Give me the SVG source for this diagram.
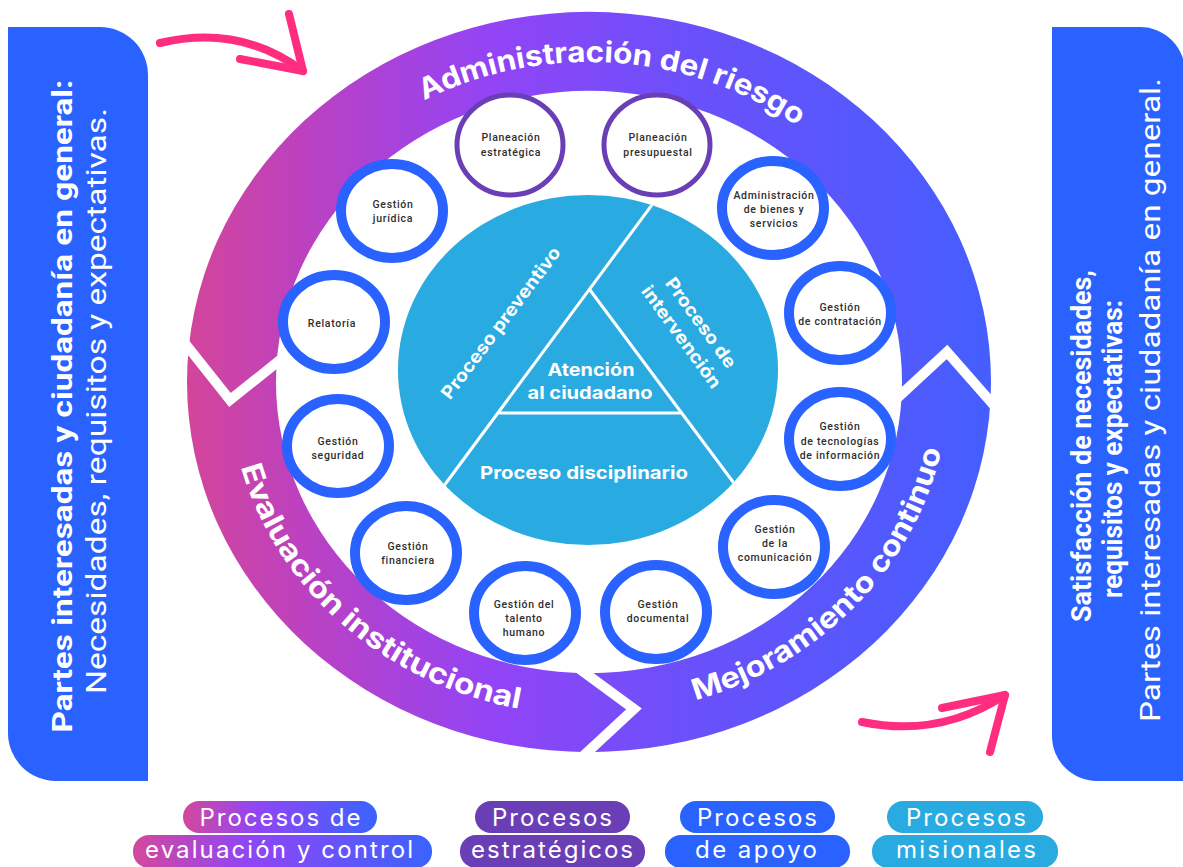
<svg xmlns="http://www.w3.org/2000/svg" width="1183" height="867" viewBox="0 0 1183 867">
<defs>
<linearGradient id="ringGrad" gradientUnits="userSpaceOnUse" x1="188" y1="0" x2="990" y2="0">
<stop offset="0" stop-color="#d3459a"/>
<stop offset="0.15" stop-color="#bb41c2"/>
<stop offset="0.38" stop-color="#9244f6"/>
<stop offset="0.62" stop-color="#6b50fb"/>
<stop offset="1" stop-color="#455efe"/>
</linearGradient>
<linearGradient id="pillGrad" x1="0" y1="0" x2="1" y2="0">
<stop offset="0" stop-color="#d4489c"/>
<stop offset="0.38" stop-color="#9145f5"/>
<stop offset="1" stop-color="#3a63fe"/>
</linearGradient>
<clipPath id="cyanClip"><ellipse cx="588" cy="370" rx="190" ry="175"/></clipPath>
<path id="topArc" d="M242,382 A347,320 0 0 1 936,382"/>
<path id="botArc" d="M229,382 A360,333 0 0 0 949,382"/>
</defs>
<style>
.panel{fill:#2962ff}
.pb{fill:#fff;font-family:Roboto,"Liberation Sans",sans-serif;font-weight:700;text-anchor:middle}
.pr{fill:#fff;font-family:Roboto,"Liberation Sans",sans-serif;font-weight:400;text-anchor:middle}
.ringt{fill:#fff;font-family:Inter,"Liberation Sans",sans-serif;font-weight:700;font-size:29px;text-anchor:middle}
.nb{fill:#fff;stroke:#2962ff;stroke-width:10}
.np{fill:#fff;stroke:#6a3fb5;stroke-width:5}
.nt{fill:#2e2e2e;font-family:Roboto,"Liberation Sans",sans-serif;font-weight:500;font-size:10.5px;letter-spacing:0.7px;text-anchor:middle}
.ct{fill:#fff;font-family:Inter,"Liberation Sans",sans-serif;font-weight:700;font-size:18px;text-anchor:middle}
.gap{fill:none;stroke:#fff;stroke-width:10;stroke-linejoin:miter}
.tri{fill:none;stroke:#fff;stroke-width:3}
.arrow{fill:none;stroke:#ff2d7f;stroke-width:8;stroke-linecap:round;stroke-linejoin:round}
.lt{fill:#fff;font-family:Inter,"Liberation Sans",sans-serif;font-size:24px;text-anchor:middle}
</style>

<g id="left-panel">
<path class="panel" d="M8,27 H100 A48,48 0 0 1 148,75 V781 H56 A48,48 0 0 1 8,733 Z"/>
<text class="pb" font-size="27" transform="translate(72,406) rotate(-90)" textLength="653" lengthAdjust="spacingAndGlyphs">Partes interesadas y ciudadanía en general:</text>
<text class="pr" font-size="28" transform="translate(106,401) rotate(-90)" textLength="586" lengthAdjust="spacingAndGlyphs">Necesidades, requisitos y expectativas.</text>
</g>

<g id="right-panel">
<path class="panel" d="M1052,27 H1140 A45,45 0 0 1 1185,72 V781 H1097 A45,45 0 0 1 1052,736 Z"/>
<text class="pb" font-size="27" transform="translate(1091,446) rotate(-90)" textLength="352" lengthAdjust="spacingAndGlyphs">Satisfacción de necesidades,</text>
<text class="pb" font-size="27" transform="translate(1122,449) rotate(-90)" textLength="298" lengthAdjust="spacingAndGlyphs">requisitos y expectativas:</text>
<text class="pr" font-size="27" transform="translate(1160,400) rotate(-90)" textLength="644" lengthAdjust="spacingAndGlyphs">Partes interesadas y ciudadanía en general.</text>
</g>

<g id="ring">
<path fill="url(#ringGrad)" fill-rule="evenodd" d="M187,382 A402,370 0 1 0 991,382 A402,370 0 1 0 187,382 Z M276,382 A313,291 0 1 0 902,382 A313,291 0 1 0 276,382 Z"/>
<polyline class="gap" points="176,332 230,400 290,352"/>
<polyline class="gap" points="893,402 947,352 998,410"/>
<polyline class="gap" points="570,662 634,709 580,759"/>
<text class="ringt"><textPath href="#topArc" startOffset="549" textLength="392" lengthAdjust="spacingAndGlyphs">Administración del riesgo</textPath></text>
<text class="ringt"><textPath href="#botArc" startOffset="280" textLength="388" lengthAdjust="spacingAndGlyphs">Evaluación institucional</textPath></text>
<text class="ringt"><textPath href="#botArc" startOffset="836" textLength="368" lengthAdjust="spacingAndGlyphs">Mejoramiento continuo</textPath></text>
</g>

<g id="center">
<ellipse cx="588" cy="370" rx="190" ry="175" fill="#29abe2"/>
<g clip-path="url(#cyanClip)">
<line class="tri" x1="660" y1="194" x2="432" y2="502"/>
<line class="tri" x1="590" y1="290" x2="748" y2="502"/>
<line class="tri" x1="499" y1="413" x2="682" y2="413"/>
</g>
<text class="ct" x="591" y="376" textLength="87" lengthAdjust="spacingAndGlyphs">Atención</text>
<text class="ct" x="590" y="399" textLength="125" lengthAdjust="spacingAndGlyphs">al ciudadano</text>
<text class="ct" x="584" y="479" textLength="208" lengthAdjust="spacingAndGlyphs">Proceso disciplinario</text>
<text class="ct" transform="translate(501,323) rotate(-53)" x="0" y="6" textLength="185" lengthAdjust="spacingAndGlyphs">Proceso preventivo</text>
<g transform="translate(691,330) rotate(54)">
<text class="ct" x="0" y="-6" textLength="107" lengthAdjust="spacingAndGlyphs">Proceso de</text>
<text class="ct" x="0" y="18" textLength="122" lengthAdjust="spacingAndGlyphs">intervención</text>
</g>
</g>

<g id="node-planeacion-estrategica">
<ellipse class="np" cx="510" cy="145" rx="53" ry="50"/>
<text class="nt"><tspan x="511" y="141">Planeación</tspan><tspan x="511" y="156">estratégica</tspan></text>
</g>
<g id="node-planeacion-presupuestal">
<ellipse class="np" cx="657" cy="145" rx="53" ry="50"/>
<text class="nt"><tspan x="658" y="141">Planeación</tspan><tspan x="658" y="156">presupuestal</tspan></text>
</g>
<g id="node-gestion-juridica">
<ellipse class="nb" cx="392" cy="211" rx="51" ry="47"/>
<text class="nt"><tspan x="393" y="208">Gestión</tspan><tspan x="393" y="222">jurídica</tspan></text>
</g>
<g id="node-administracion-bienes">
<ellipse class="nb" cx="773" cy="208" rx="51" ry="47"/>
<text class="nt"><tspan x="774" y="199">Administración</tspan><tspan x="774" y="213">de bienes y</tspan><tspan x="774" y="227">servicios</tspan></text>
</g>
<g id="node-relatoria">
<ellipse class="nb" cx="334" cy="322" rx="51" ry="47"/>
<text class="nt" x="332" y="327">Relatoría</text>
</g>
<g id="node-gestion-contratacion">
<ellipse class="nb" cx="840" cy="313" rx="51" ry="47"/>
<text class="nt"><tspan x="840" y="311">Gestión</tspan><tspan x="840" y="325">de contratación</tspan></text>
</g>
<g id="node-gestion-seguridad">
<ellipse class="nb" cx="338" cy="446" rx="51" ry="47"/>
<text class="nt"><tspan x="338" y="445">Gestión</tspan><tspan x="338" y="459">seguridad</tspan></text>
</g>
<g id="node-gestion-tecnologias">
<ellipse class="nb" cx="840" cy="439" rx="51" ry="47"/>
<text class="nt"><tspan x="840" y="430">Gestión</tspan><tspan x="840" y="445">de tecnologías</tspan><tspan x="840" y="459">de información</tspan></text>
</g>
<g id="node-gestion-financiera">
<ellipse class="nb" cx="406" cy="553" rx="51" ry="47"/>
<text class="nt"><tspan x="408" y="550">Gestión</tspan><tspan x="408" y="564">financiera</tspan></text>
</g>
<g id="node-gestion-comunicacion">
<ellipse class="nb" cx="774" cy="547" rx="51" ry="47"/>
<text class="nt"><tspan x="775" y="533">Gestión</tspan><tspan x="775" y="547">de la</tspan><tspan x="775" y="561">comunicación</tspan></text>
</g>
<g id="node-gestion-talento">
<ellipse class="nb" cx="525" cy="613" rx="51" ry="47"/>
<text class="nt"><tspan x="524" y="608">Gestión del</tspan><tspan x="524" y="622">talento</tspan><tspan x="524" y="636">humano</tspan></text>
</g>
<g id="node-gestion-documental">
<ellipse class="nb" cx="656" cy="612" rx="51" ry="47"/>
<text class="nt"><tspan x="658" y="608">Gestión</tspan><tspan x="658" y="622">documental</tspan></text>
</g>

<g id="connectors">
<path class="arrow" d="M160,43 Q240,24 303,71"/>
<polyline class="arrow" points="289,14 303,71 240,59"/>
<path class="arrow" d="M862,722 Q940,738 1005,695"/>
<polyline class="arrow" points="990,752 1005,695 942,708"/>
</g>

<g id="legend-evaluacion">
<rect x="183" y="801" width="194" height="32" rx="16" fill="url(#pillGrad)"/>
<rect x="133" y="835" width="299" height="33" rx="16" fill="url(#pillGrad)"/>
<text class="lt" x="280" y="826" textLength="161">Procesos de</text>
<text class="lt" x="279" y="858" textLength="268">evaluación y control</text>
</g>
<g id="legend-estrategicos">
<rect x="475" y="801" width="155" height="32" rx="16" fill="#6a3fb5"/>
<rect x="460" y="835" width="185" height="33" rx="16" fill="#6a3fb5"/>
<text class="lt" x="552" y="826" textLength="120">Procesos</text>
<text class="lt" x="552" y="858" textLength="162">estratégicos</text>
</g>
<g id="legend-apoyo">
<rect x="680" y="801" width="155" height="32" rx="16" fill="#2962ff"/>
<rect x="665" y="835" width="185" height="33" rx="16" fill="#2962ff"/>
<text class="lt" x="757" y="826" textLength="120">Procesos</text>
<text class="lt" x="756" y="858" textLength="122">de apoyo</text>
</g>
<g id="legend-misionales">
<rect x="887" y="801" width="156" height="32" rx="16" fill="#29abe2"/>
<rect x="872" y="835" width="186" height="33" rx="16" fill="#29abe2"/>
<text class="lt" x="966" y="826" textLength="120">Procesos</text>
<text class="lt" x="966" y="858" textLength="140">misionales</text>
</g>
</svg>
